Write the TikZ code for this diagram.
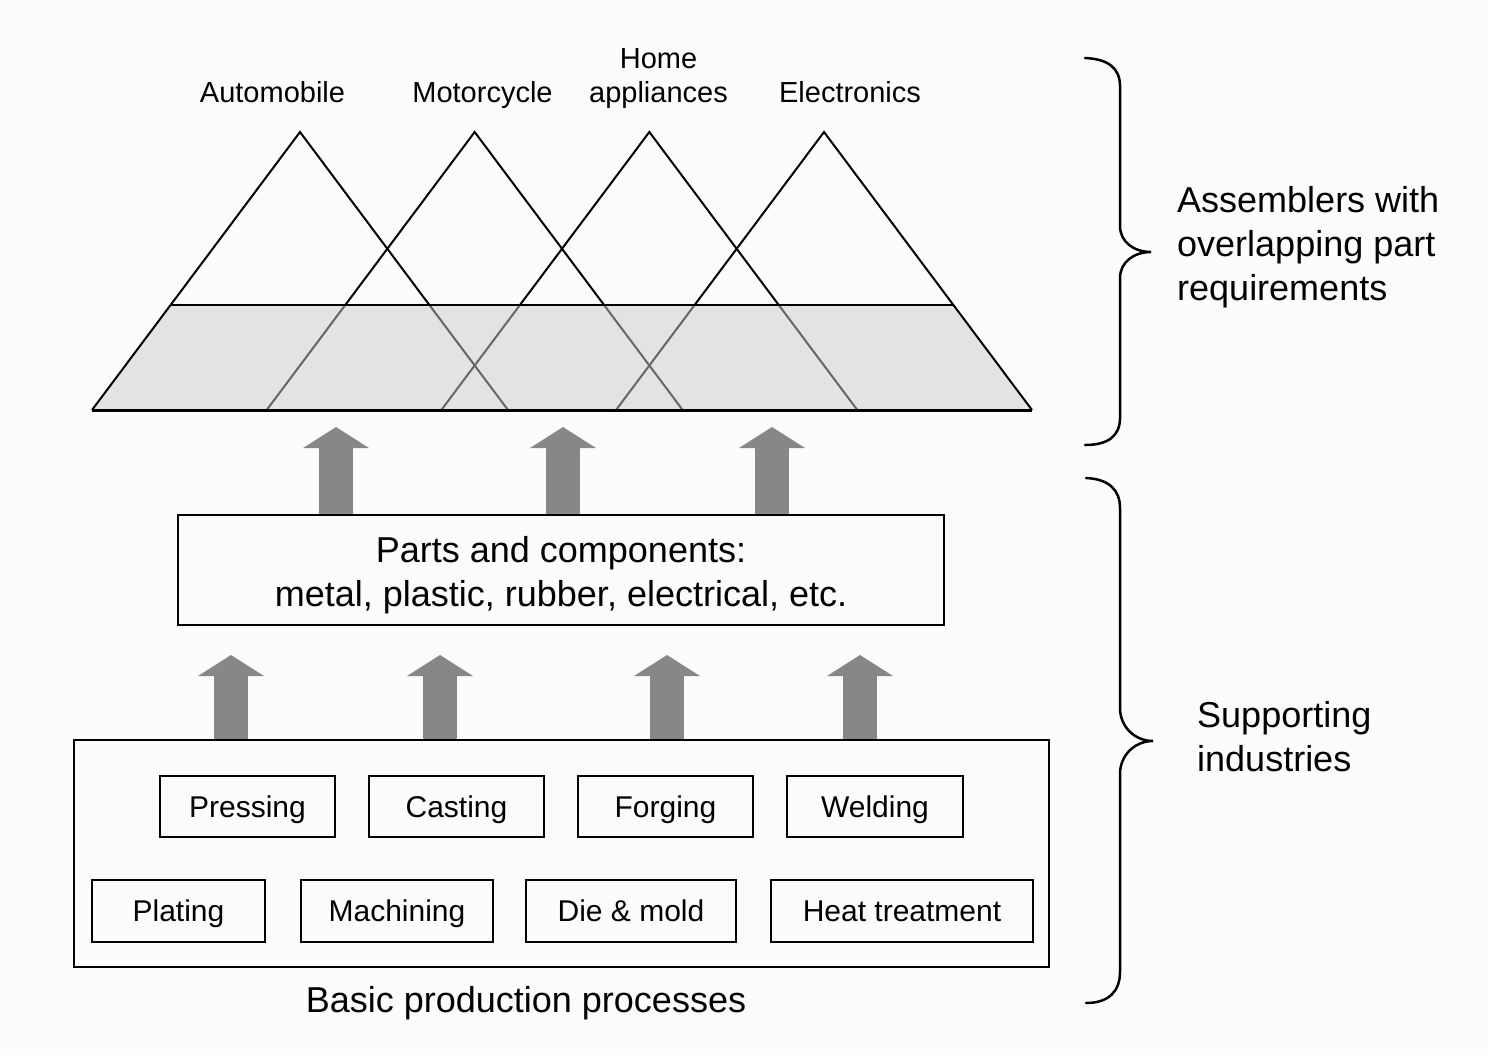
\documentclass[tikz,border=0pt]{standalone}
\usepackage{fontspec}
\setmainfont{Liberation Sans}
\usetikzlibrary{arrows.meta,backgrounds}
\definecolor{paper}{HTML}{FCFCFC}
\definecolor{bandgray}{HTML}{E3E3E3}
\definecolor{arrowgray}{HTML}{878787}
\definecolor{hiddenedge}{HTML}{666666}

\begin{document}
\begin{tikzpicture}[x=1pt,y=-1pt,
  box/.style={draw=black, line width=2.5pt, fill=paper, inner sep=0pt},
  procbox/.style={box, minimum height=61pt, text height=22pt, text depth=1pt,
    font=\fontsize{30}{36}\selectfont},
  bigtext/.style={font=\fontsize{36}{44}\selectfont},
  sectorlabel/.style={font=\fontsize{29}{34}\selectfont, inner sep=0pt, align=center},
  flowarrow/.style={draw=arrowgray, line width=34pt, -{Triangle[width=65pt,length=21pt]}},
  slope/.style={line width=2pt},
  hiddenslope/.style={line width=2pt, draw=hiddenedge},
  brace/.style={line width=2.5pt, line cap=round}
]
\useasboundingbox (0,0) rectangle (1488,1055);

% ---------- sector labels ----------
\node[sectorlabel, anchor=base] (auto) at (272.5,102) {Automobile};
\node[sectorlabel, anchor=base] (moto) at (482.5,102) {Motorcycle};
\node[sectorlabel, anchor=south] (home) at (658.5,109) {Home\\appliances};
\node[sectorlabel, anchor=base] (elec) at (850,102) {Electronics};

% ---------- overlapping assembler pyramids ----------
\fill[bandgray] (92,410) -- (1032,410) -- (953.4,305) -- (170.6,305) -- cycle;
\foreach \a in {300,474.67,649.33,824} {
  \draw[slope] (\a-129.4,305) -- (\a,132) -- (\a+129.4,305);
}
\foreach \a in {474.67,649.33,824} {
  \draw[hiddenslope] (\a-129.4,305) -- (\a-208,410);
}
\foreach \a in {300,474.67,649.33} {
  \draw[hiddenslope] (\a+129.4,305) -- (\a+208,410);
}
\draw[slope] (170.6,305) -- (92,410);
\draw[slope] (953.4,305) -- (1032,410);
\draw[line width=2.5pt] (170.6,305) -- (953.4,305);
\draw[line width=3pt] (92,410) -- (1032,410);

% ---------- parts and components ----------
\node[box, minimum width=766pt, minimum height=110pt] (parts) at (561,570) {};
\node[bigtext, align=center, inner sep=0pt] (partstext) at (561,575)
  {Parts and components:\\metal, plastic, rubber, electrical, etc.};

% ---------- basic production processes ----------
\node[box, minimum width=975pt, minimum height=227pt] (proc) at (561.5,853.5) {};
\node[procbox, minimum width=175pt] (pressing) at (247.5,806.5) {Pressing};
\node[procbox, minimum width=175pt] (casting)  at (456.5,806.5) {Casting};
\node[procbox, minimum width=175pt] (forging)  at (665.5,806.5) {Forging};
\node[procbox, minimum width=176pt] (welding)  at (875,806.5) {Welding};
\node[procbox, minimum width=173pt, minimum height=62pt] (plating)   at (178.5,911) {Plating};
\node[procbox, minimum width=192pt, minimum height=62pt] (machining) at (397,911) {Machining};
\node[procbox, minimum width=210pt, minimum height=62pt] (diemold)   at (631,911) {Die \& mold};
\node[procbox, minimum width=262pt, minimum height=62pt] (heat)      at (902,911) {Heat treatment};
\node[bigtext, anchor=base] (proclabel) at (526,1012) {Basic production processes};

% ---------- arrow tips ----------
\coordinate (t1) at (336,427);
\coordinate (t2) at (563,427);
\coordinate (t3) at (772,427);
\coordinate (b1) at (231,655);
\coordinate (b2) at (440,655);
\coordinate (b3) at (667,655);
\coordinate (b4) at (860,655);

\begin{scope}[on background layer]
  \fill[paper] (0,0) rectangle (1488,1055);
  \foreach \t in {t1,t2,t3}
    \draw[flowarrow] (parts.north -| \t) -- (\t);
  \foreach \b in {b1,b2,b3,b4}
    \draw[flowarrow] (proc.north -| \b) -- (\b);
\end{scope}

% ---------- braces ----------
\draw[brace] (1085,58) .. controls (1108,59) and (1120,68) .. (1120,86)
  -- (1120,226) .. controls (1120,242) and (1134,252) .. (1151,252)
  .. controls (1134,252) and (1120,262) .. (1120,278)
  -- (1120,418) .. controls (1120,436) and (1108,445) .. (1085,445);
\draw[brace] (1086,478) .. controls (1109,479) and (1120,490) .. (1120,508)
  -- (1120,708) .. controls (1120,727) and (1135,741) .. (1153,741)
  .. controls (1135,741) and (1120,755) .. (1120,774)
  -- (1120,972) .. controls (1120,991) and (1109,1003) .. (1086,1003);

\node[bigtext, align=left, anchor=west, inner sep=0pt] (assemblers) at (1177,247)
  {Assemblers with\\overlapping part\\requirements};
\node[bigtext, align=left, anchor=west, inner sep=0pt] (supporting) at (1197,737)
  {Supporting\\industries};
\end{tikzpicture}
\end{document}
